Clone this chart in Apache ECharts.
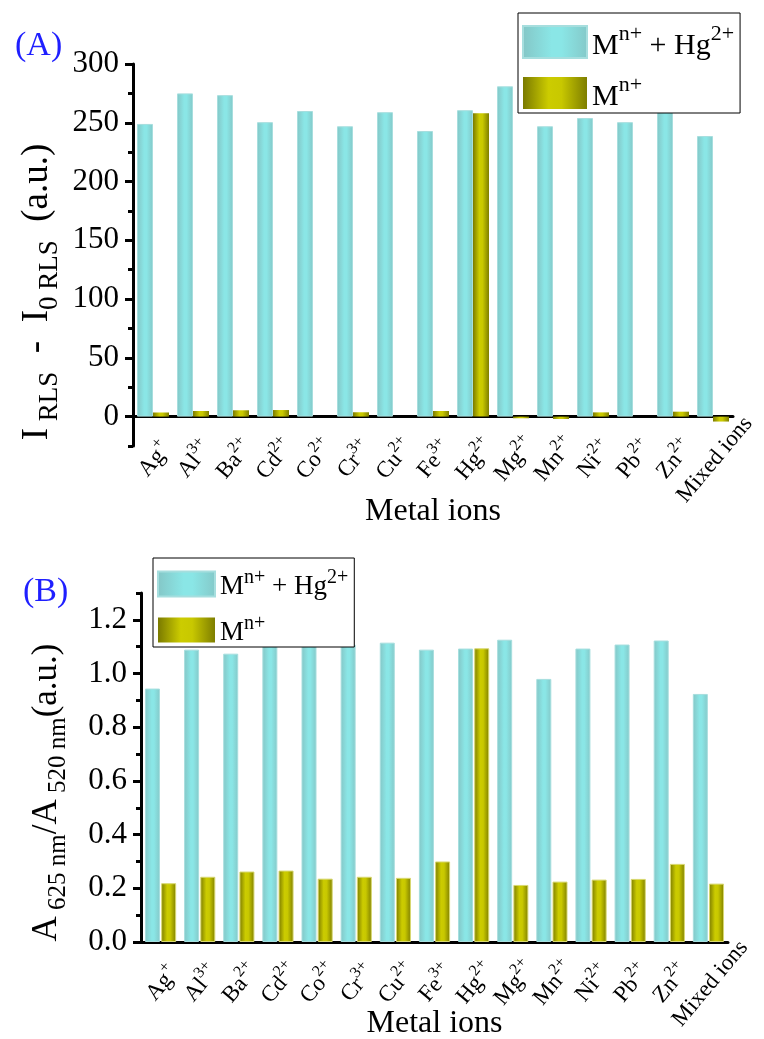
<!DOCTYPE html>
<html>
<head>
<meta charset="utf-8">
<script src="https://cdn.jsdelivr.net/npm/echarts@6/dist/echarts.min.js"></script>
<style>
html, body { margin: 0; padding: 0; background: #fff; }
#chart { width: 764px; height: 1039px; }
</style>
</head>
<body>
<div id="chart"></div>
<script>
// metal ions on the x axis, with their charges as superscripts
var ionNames = ['Ag', 'Al', 'Ba', 'Cd', 'Co', 'Cr', 'Cu', 'Fe', 'Hg', 'Mg', 'Mn', 'Ni', 'Pb', 'Zn', 'Mixed ions'];
var ionCharges = ['+', '3+', '2+', '2+', '2+', '3+', '2+', '3+', '2+', '2+', '2+', '2+', '2+', '2+', ''];

// (A) RLS intensity
var rlsWithHg = [249, 275, 273.5, 250.5, 260, 247, 259, 243, 260.7, 281, 247, 254, 250.5, 262, 238.7];
var rlsAlone = [3.5, 4.8, 5.4, 5.6, 0, 3.7, 0, 4.8, 258, -1.4, -2, 3.6, 0, 4.2, -4.2];
var rlsTicks = [0, 50, 100, 150, 200, 250, 300];

// (B) absorbance ratio
var ratioWithHg = [0.944, 1.089, 1.074, 1.12, 1.104, 1.108, 1.115, 1.089, 1.093, 1.126, 0.98, 1.093, 1.108, 1.123, 0.924];
var ratioAlone = [0.219, 0.243, 0.2625, 0.266, 0.236, 0.243, 0.239, 0.30, 1.094, 0.2125, 0.225, 0.2325, 0.235, 0.291, 0.2175];
var ratioTicks = [0, 0.2, 0.4, 0.6, 0.8, 1.0, 1.2];

var serif = 'Liberation Serif, Times New Roman, serif';
var nameMix = 'Mn+ + Hg2+';
var nameOne = 'Mn+';

var chart = echarts.init(document.getElementById('chart'));

function cyan() {
    return new echarts.graphic.LinearGradient(0, 0, 1, 0, [
        { offset: 0, color: '#84c6c6' },
        { offset: 0.45, color: '#8ae6e6' },
        { offset: 0.6, color: '#8ae6e6' },
        { offset: 1, color: '#84c8c8' }
    ]);
}
function olive() {
    return new echarts.graphic.LinearGradient(0, 0, 1, 0, [
        { offset: 0, color: '#7a7a00' },
        { offset: 0.4, color: '#cccc00' },
        { offset: 0.6, color: '#c8c800' },
        { offset: 1, color: '#7e7e00' }
    ]);
}

function ionLabel(value, index) {
    if (!ionCharges[index]) return '{b|' + value + '}';
    return '{b|' + value + '}{s|' + ionCharges[index] + '}';
}

function legendLabel(name) {
    if (name === nameMix) return '{m|M}{s|n+}{m| + Hg}{s|2+}';
    return '{m|M}{s|n+}';
}

function xAxes(grid, gap, margin) {
    return [{
        type: 'category',
        gridIndex: grid,
        position: 'bottom',
        data: ionNames,
        name: 'Metal ions',
        nameLocation: 'middle',
        nameGap: gap,
        nameMoveOverlap: false,
        nameTextStyle: { fontFamily: serif, fontSize: 32, color: '#000' },
        axisLine: { lineStyle: { color: '#000', width: 3 } },
        axisTick: { alignWithLabel: true, length: 8, lineStyle: { color: '#000', width: 3 } },
        axisLabel: {
            interval: 0, rotate: 50, align: 'center', verticalAlign: 'middle', margin: margin,
            formatter: ionLabel,
            rich: {
                b: { fontFamily: serif, fontSize: 23, color: '#000', lineHeight: 28, verticalAlign: 'bottom' },
                s: { fontFamily: serif, fontSize: 16, color: '#000', verticalAlign: 'top' }
            }
        }
    }, {
        type: 'category',
        gridIndex: grid,
        position: 'bottom',
        data: ionNames,
        axisLine: { show: false },
        axisTick: { length: 5, lineStyle: { color: '#000', width: 3 } },
        axisLabel: { show: false }
    }];
}

function nameRich(size, subSize, shift) {
    return {
        m: { fontFamily: serif, fontSize: size, color: '#000', lineHeight: size + 7, verticalAlign: 'top' },
        s: { fontFamily: serif, fontSize: subSize, color: '#000', verticalAlign: 'bottom' },
        g: { width: shift }
    };
}

function yAxes(grid, min, max, step, ticks, name, rich, gap, fmt) {
    return [{
        type: 'value',
        gridIndex: grid,
        position: 'left',
        min: min, max: max, interval: step,
        name: name,
        nameLocation: 'middle',
        nameRotate: 90,
        nameGap: gap,
        nameMoveOverlap: false,
        nameTextStyle: { fontFamily: serif, color: '#000', rich: rich },
        splitLine: { show: false },
        axisLine: { show: true, onZero: false, lineStyle: { color: '#000', width: 3 } },
        axisTick: { show: true, customValues: ticks, length: 8, lineStyle: { color: '#000', width: 3 } },
        axisLabel: { customValues: ticks, margin: 14, fontFamily: serif, fontSize: 31, color: '#000', formatter: fmt }
    }, {
        type: 'value',
        gridIndex: grid,
        position: 'left',
        min: min, max: max, interval: step,
        splitLine: { show: false },
        axisLine: { show: false },
        axisTick: { show: true, length: 5, lineStyle: { color: '#000', width: 3 } },
        axisLabel: { show: false }
    }];
}

var yA = yAxes(0, -25, 300, 25, rlsTicks,
    '{m|I}{s| RLS}{m|  -  I}{s|0 RLS}{m|  (a.u.)}{g| }', nameRich(37, 27, 74), 70,
    function (v) { return String(v); });
var yB = yAxes(1, 0, 1.3, 0.1, ratioTicks,
    '{m|A}{s| 625 nm}{m|/A}{s| 520 nm}{m|(a.u.)}{g| }', nameRich(35, 25, 50), 70,
    function (v) { return v.toFixed(1); });

function barSeries(name, data, xi, yi, color, border, width, gap) {
    return {
        name: name,
        type: 'bar',
        xAxisIndex: xi,
        yAxisIndex: yi,
        data: data,
        barWidth: width,
        barGap: gap,
        itemStyle: { color: color, borderColor: border, borderWidth: border ? 1 : 0 }
    };
}

function legend(left, top, w, h, gap, size, supSize, lh, pad) {
    return {
        orient: 'vertical',
        left: left,
        top: top,
        data: [nameMix, nameOne],
        icon: 'rect',
        itemWidth: w,
        itemHeight: h,
        itemGap: gap,
        padding: pad,
        backgroundColor: '#fff',
        borderColor: '#000',
        borderWidth: 1,
        selectedMode: false,
        formatter: legendLabel,
        textStyle: {
            rich: {
                m: { fontFamily: serif, fontSize: size, color: '#000', lineHeight: lh, verticalAlign: 'bottom' },
                s: { fontFamily: serif, fontSize: supSize, color: '#000', verticalAlign: 'top' }
            }
        }
    };
}

var option = {
    backgroundColor: '#fff',
    animation: false,
    title: [
        { text: '(A)', left: 10, top: 24, textStyle: { fontFamily: serif, fontSize: 34, fontWeight: 'normal', color: '#1f1fff' } },
        { text: '(B)', left: 18, top: 570, textStyle: { fontFamily: serif, fontSize: 34, fontWeight: 'normal', color: '#1f1fff' } }
    ],
    legend: [
        legend(518, 13, 64, 32, 13, 30, 22, 38, [10, 6, 1, 4]),
        legend(153, 558, 57, 25, 14, 27, 20, 32, [10, 6, 1, 4])
    ],
    grid: [
        { left: 133, top: 64, width: 600, height: 382, containLabel: false, outerBoundsMode: 'none' },
        { left: 141, top: 593, width: 587, height: 349, containLabel: false, outerBoundsMode: 'none' }
    ],
    xAxis: xAxes(0, 50, 12).concat(xAxes(1, 66, 40)),
    yAxis: yA.concat(yB),
    series: [
        barSeries(nameMix, rlsWithHg, 0, 0, cyan(), '#a6dede', 16, '0%'),
        barSeries(nameOne, rlsAlone, 0, 0, olive(), null, 16, '0%'),
        barSeries(nameMix, ratioWithHg, 2, 2, cyan(), '#a6dede', 15, '8%'),
        barSeries(nameOne, ratioAlone, 2, 2, olive(), '#d8d870', 15, '8%')
    ]
};

chart.setOption(option);
</script>
</body>
</html>
